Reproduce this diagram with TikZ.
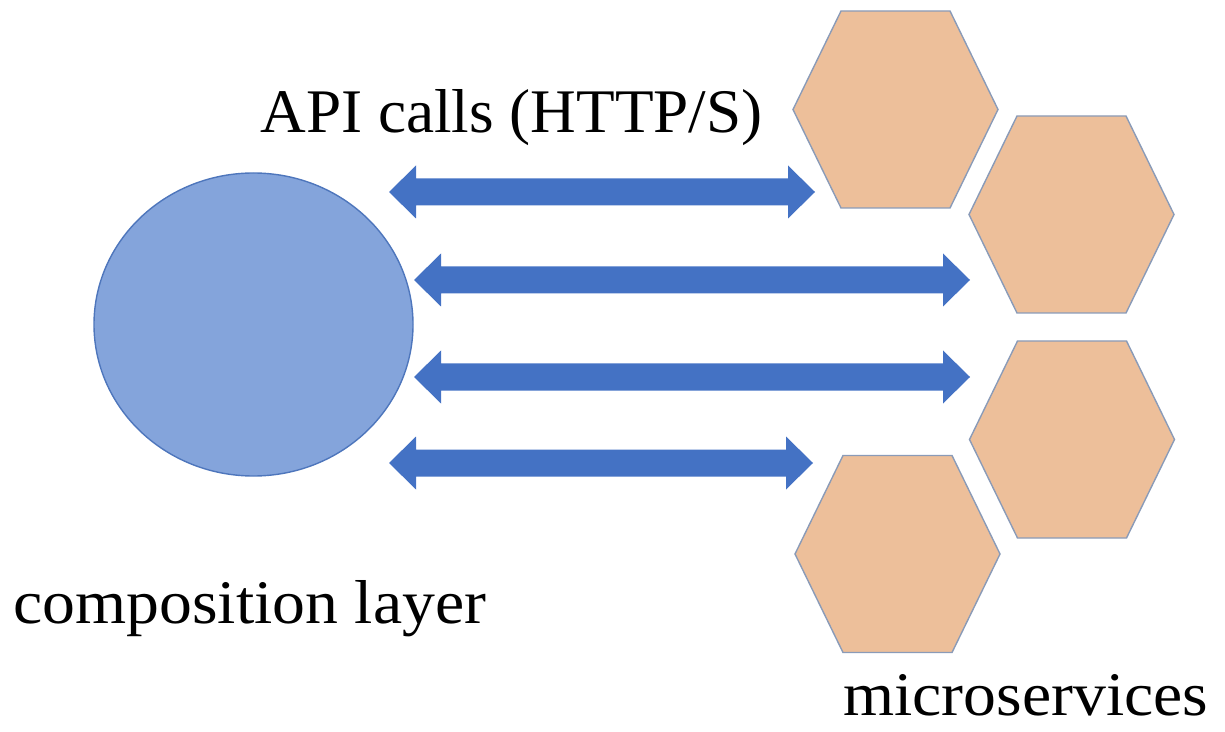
\documentclass[tikz,border=0pt]{standalone}
\usepackage{fontspec}
\setmainfont{Liberation Serif}[FakeStretch=1.06]
\newfontfamily\narrowserif{Liberation Serif}[FakeStretch=1.02]
\usetikzlibrary{calc,shapes.geometric}

\definecolor{arrowblue}{HTML}{4472C4}
\definecolor{layerfill}{HTML}{84A4DB}
\definecolor{layerline}{HTML}{4E76BC}
\definecolor{svcfill}{HTML}{EDBF9A}
\definecolor{svcline}{HTML}{8A9BB8}

\tikzset{
  % two-headed block arrow between two points on the same horizontal line
  twoway/.style={to path={
    let \p1=(\tikztostart), \p2=(\tikztotarget) in
    (\x1,\y1) -- (\x1+13.5pt,\y1+13.25pt) -- (\x1+13.5pt,\y1+6.75pt)
    -- (\x2-13.5pt,\y2+6.75pt) -- (\x2-13.5pt,\y2+13.25pt) -- (\x2,\y2)
    -- (\x2-13.5pt,\y2-13.25pt) -- (\x2-13.5pt,\y2-6.75pt)
    -- (\x1+13.5pt,\y1-6.75pt) -- (\x1+13.5pt,\y1-13.25pt) -- cycle}},
  callarrow/.style={fill=arrowblue},
  layer/.style={ellipse, draw=layerline, line width=0.7pt, fill=layerfill,
    inner sep=0pt, minimum width=159.5pt, minimum height=151.5pt},
  svc/.style={draw=svcline, line width=0.7pt, fill=svcfill, line join=miter},
  label/.style={inner sep=0pt, anchor=base west,
    font=\fontsize{31}{36}\selectfont},
  hexa/.pic={\path[svc] (-102.5,0) -- (-54.5,-98.5) -- (54.5,-98.5)
    -- (102.5,0) -- (54.5,98.5) -- (-54.5,98.5) -- cycle;}
}

\begin{document}
\begin{tikzpicture}[x=0.5pt,y=-0.5pt]
  \useasboundingbox (0,0) rectangle (1225,732);

  % composition layer
  \node[layer] (comp) at (253.5,324.5) {};

  % microservices
  \coordinate (h1) at (895.5,109.5);
  \coordinate (h2) at (1071.5,214.5);
  \coordinate (h3) at (1072,439.5);
  \coordinate (h4) at (897.5,554);
  \pic at (h1) {hexa};
  \pic at (h2) {hexa};
  \pic at (h3) {hexa};
  \pic at (h4) {hexa};

  % API call arrows
  \coordinate (a1l) at (389,192);  \coordinate (a1r) at (815,192);
  \coordinate (a2l) at (414,280);  \coordinate (a2r) at (970,280);
  \coordinate (a3l) at (414,377);  \coordinate (a3r) at (970,377);
  \coordinate (a4l) at (389,463);  \coordinate (a4r) at (813,463);
  \fill[callarrow] (a1l) to[twoway] (a1r);
  \fill[callarrow] (a2l) to[twoway] (a2r);
  \fill[callarrow] (a3l) to[twoway] (a3r);
  \fill[callarrow] (a4l) to[twoway] (a4r);

  % labels
  \node[label] (api) at (260,133) {\narrowserif API calls (HTTP/S)};
  \node[label] (complabel) at (13,623) {composition layer};
  \node[label] (svclabel) at (843,715) {microservices};
\end{tikzpicture}
\end{document}
